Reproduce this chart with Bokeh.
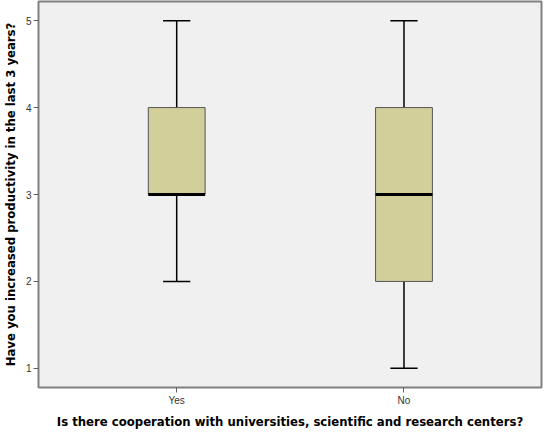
from bokeh.plotting import figure
from bokeh.models import Range1d, FixedTicker
from bokeh.embed import file_html
from bokeh.resources import INLINE

categories = ["Yes", "No"]
lower_whisker = [2, 1]
q1 = [3, 2]
median = [3, 3]
q3 = [4, 4]
upper_whisker = [5, 5]
y_ticks = [1, 2, 3, 4, 5]

xs = list(range(1, len(categories) + 1))
box_w = 0.25
cap_w = 0.12

p = figure(width=543, height=431, output_backend="svg", toolbar_location=None,
           x_range=Range1d(0.392, 2.605), y_range=Range1d(0.78, 5.22),
           background_fill_color="#f0f0f0", border_fill_color="white",
           min_border_left=0, min_border_right=2, min_border_top=1, min_border_bottom=0)

p.grid.visible = False
p.outline_line_color = "#808080"
p.outline_line_width = 2

# whiskers
p.segment(x0=xs, y0=q3, x1=xs, y1=upper_whisker, line_color="black", line_width=1.5)
p.segment(x0=xs, y0=lower_whisker, x1=xs, y1=q1, line_color="black", line_width=1.5)
p.segment(x0=[x - cap_w / 2 for x in xs], y0=upper_whisker, x1=[x + cap_w / 2 for x in xs],
          y1=upper_whisker, line_color="black", line_width=1.5)
p.segment(x0=[x - cap_w / 2 for x in xs], y0=lower_whisker, x1=[x + cap_w / 2 for x in xs],
          y1=lower_whisker, line_color="black", line_width=1.5)

# boxes
p.vbar(x=xs, width=box_w, bottom=q1, top=q3, fill_color="#d3cf9b",
       line_color="#555555", line_width=1)
# medians
p.segment(x0=[x - box_w / 2 for x in xs], y0=median, x1=[x + box_w / 2 for x in xs],
          y1=median, line_color="black", line_width=3)

p.xaxis.ticker = FixedTicker(ticks=xs)
p.xaxis.major_label_overrides = {x: c for x, c in zip(xs, categories)}
p.yaxis.ticker = FixedTicker(ticks=y_ticks)
p.xaxis.minor_tick_line_color = None
p.yaxis.minor_tick_line_color = None

for ax in (p.xaxis, p.yaxis):
    ax.axis_line_color = None
    ax.major_tick_line_color = "#606060"
    ax.major_tick_in = 0
    ax.major_tick_out = 5
    ax.major_label_text_font = "Liberation Sans"
    ax.major_label_text_font_size = "10px"
    ax.major_label_text_color = "#333333"
    ax.major_label_standoff = 2
    ax.axis_label_text_font = "DejaVu Sans"
    ax.axis_label_text_font_style = "bold"
    ax.axis_label_text_font_size = "11.7px"
    ax.axis_label_text_color = "black"
    ax.axis_label_standoff = 6

p.xaxis.axis_label = "Is there cooperation with universities, scientific and research centers?"
p.yaxis.axis_label = "Have you increased productivity in the last 3 years?"
p.yaxis.axis_label_standoff = 5

open("out.html", "w").write(file_html(p, INLINE))
